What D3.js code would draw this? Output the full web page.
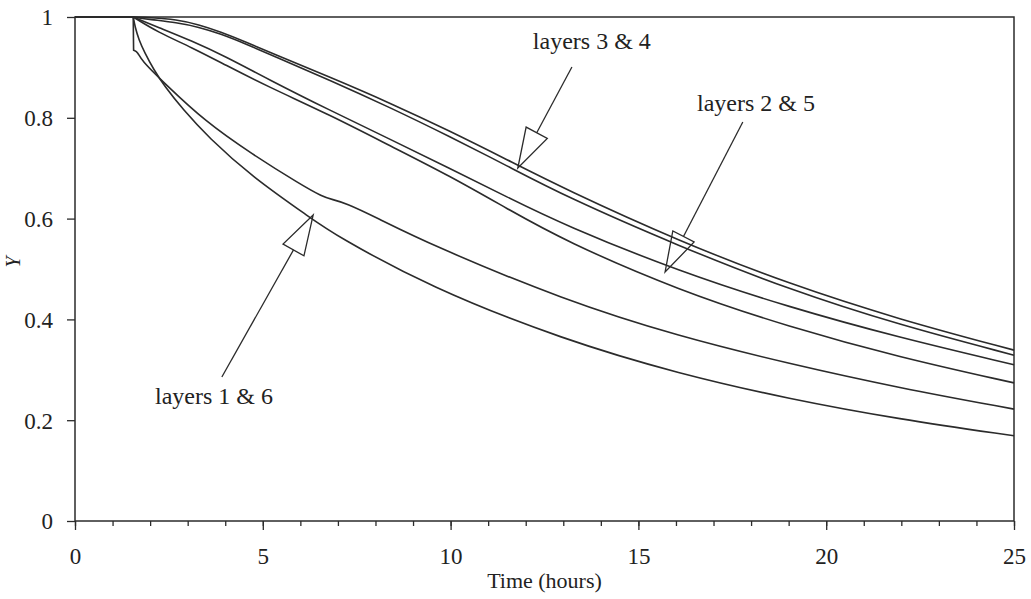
<!DOCTYPE html>
<html>
<head>
<meta charset="utf-8">
<script src="https://cdn.jsdelivr.net/npm/d3@7"></script>
<style>
  html, body { margin: 0; padding: 0; background: #fff; }
  svg { display: block; }
  text { font-family: "Liberation Serif", "Times New Roman", serif; fill: #222; }
</style>
</head>
<body>
<svg id="chart" width="1031" height="599"></svg>
<script>
// Relative value Y against time for the six layers, each as [hours, Y] pairs.
// A point repeated three times is a corner that the B-spline passes through.
const layer3 = [[0,1],[1.55,1],[1.55,1],[1.55,1],[2.0,0.999],[2.7,0.995],[3.3,0.985],[3.86,0.971],[4.57,0.95],[5.3,0.926],[6.78,0.881],[8.4,0.829],[9.97,0.774],[11.5,0.717],[13.03,0.659],[16.09,0.555],[19.02,0.47],[21.94,0.4],[25,0.339]];
const layer4 = [[0,1],[1.55,1],[1.55,1],[1.55,1],[2.0,0.995],[2.7,0.989],[3.3,0.98],[3.86,0.967],[4.57,0.946],[5.3,0.922],[6.78,0.875],[8.4,0.82],[9.97,0.763],[11.5,0.705],[13.03,0.645],[16.09,0.545],[19.02,0.459],[21.94,0.389],[25,0.329]];
const layer2 = [[0,1],[1.55,1],[1.55,1],[1.55,1],[2.2,0.98],[3.1,0.953],[4.0,0.922],[5.13,0.877],[6.78,0.815],[8.4,0.757],[9.97,0.7],[11.5,0.643],[13.03,0.587],[16.09,0.495],[19.02,0.424],[21.94,0.364],[25,0.31]];
const layer5 = [[0,1],[1.55,1],[1.55,1],[1.55,1],[2.2,0.97],[3.1,0.94],[4.0,0.905],[5.13,0.862],[6.78,0.806],[8.4,0.744],[9.97,0.685],[11.5,0.62],[13.03,0.556],[16.09,0.457],[19.02,0.385],[21.94,0.325],[25,0.274]];
const layer1 = [[0,1],[1.55,1],[1.55,1],[1.55,1],[1.56,0.934],[1.56,0.934],[1.56,0.934],[1.68,0.93],[1.75,0.915],[2.39,0.868],[3.46,0.793],[4.71,0.728],[6.0,0.668],[6.6,0.643],[6.85,0.638],[7.2,0.631],[8.0,0.603],[9.44,0.549],[13.03,0.438],[16.09,0.366],[19.02,0.312],[21.94,0.264],[25,0.222]];
const layer6 = [[0,1],[1.55,1],[1.55,1],[1.55,1],[1.6,0.98],[1.7,0.955],[1.85,0.93],[2.1,0.895],[2.39,0.862],[2.87,0.817],[3.54,0.762],[4.71,0.683],[6.3,0.6],[6.91,0.568],[9.44,0.464],[13.03,0.359],[16.09,0.292],[19.02,0.242],[21.94,0.202],[25,0.169]];

const seriesList = [layer1, layer2, layer3, layer4, layer5, layer6];

const xMajorTicks = [0, 5, 10, 15, 20, 25];
const xMinorTicks = d3.range(0, 26, 1);
const yTicks = [0, 0.2, 0.4, 0.6, 0.8, 1];
const yTickLabels = ["0", "0.2", "0.4", "0.6", "0.8", "1"];

// Callouts: label text, label anchor and arrow tail/tip, in data units.
const calloutText = ["layers 3 & 4", "layers 2 & 5", "layers 1 & 6"];
const calloutLabelAt = [[12.19, 0.9365], [16.56, 0.8135], [2.13, 0.232]];
const calloutTail = [[13.23, 0.9008], [17.78, 0.7917], [3.91, 0.2857]];
const calloutTip = [[11.79, 0.7004], [15.71, 0.494], [6.34, 0.607]];

const svg = d3.select("#chart");
const ink = "#2b2b2b";

const x = d3.scaleLinear().domain([0, 25]).range([75, 1014]);
const y = d3.scaleLinear().domain([0, 1]).range([521, 17]);

// Minor and major ticks on the time axis (pointing down)
svg.append("g")
  .attr("transform", `translate(0,${y(0)})`)
  .call(d3.axisBottom(x).tickValues(xMinorTicks).tickSize(5).tickFormat(""))
  .call(g => g.select(".domain").remove())
  .call(g => g.selectAll("line").attr("stroke", ink).attr("stroke-width", 1.3));

svg.append("g")
  .attr("transform", `translate(0,${y(0)})`)
  .call(d3.axisBottom(x).tickValues(xMajorTicks).tickSize(9).tickPadding(18).tickFormat(d3.format("d")))
  .call(g => g.select(".domain").remove())
  .call(g => g.selectAll("line").attr("stroke", ink).attr("stroke-width", 1.3))
  .call(g => g.selectAll("text")
    .attr("font-family", "Liberation Serif, Times New Roman, serif")
    .attr("font-size", 23).attr("fill", "#222"));

// Y ticks (pointing left)
svg.append("g")
  .attr("transform", `translate(${x(0)},0)`)
  .call(d3.axisLeft(y).tickValues(yTicks).tickSize(8).tickPadding(14)
    .tickFormat((d, i) => yTickLabels[i]))
  .call(g => g.select(".domain").remove())
  .call(g => g.selectAll("line").attr("stroke", ink).attr("stroke-width", 1.3))
  .call(g => g.selectAll("text")
    .attr("font-family", "Liberation Serif, Times New Roman, serif")
    .attr("font-size", 23).attr("fill", "#222").attr("dy", "0.34em"));

// Plot frame
svg.append("rect")
  .attr("x", x(0)).attr("y", y(1))
  .attr("width", x(25) - x(0)).attr("height", y(0) - y(1))
  .attr("fill", "none").attr("stroke", ink).attr("stroke-width", 1.5);

// Layer curves, smoothed with a B-spline
const line = d3.line()
  .x(d => x(d[0]))
  .y(d => y(d[1]))
  .curve(d3.curveBasis);

svg.append("g")
  .selectAll("path")
  .data(seriesList)
  .join("path")
  .attr("d", line)
  .attr("fill", "none")
  .attr("stroke", ink)
  .attr("stroke-width", 1.6)
  .attr("stroke-linejoin", "round");

// Callouts with open triangular arrowheads
const headLen = 40, headHalf = 12;
const callouts = svg.append("g");
calloutText.forEach((label, i) => {
  const tx = x(calloutTail[i][0]), ty = y(calloutTail[i][1]);
  const px = x(calloutTip[i][0]), py = y(calloutTip[i][1]);
  const len = Math.hypot(px - tx, py - ty);
  const ux = (px - tx) / len, uy = (py - ty) / len;
  const bx = px - ux * headLen, by = py - uy * headLen;
  const nx = -uy, ny = ux;
  callouts.append("line")
    .attr("x1", tx).attr("y1", ty).attr("x2", bx).attr("y2", by)
    .attr("stroke", ink).attr("stroke-width", 1.3);
  callouts.append("path")
    .attr("d", `M${px},${py}L${bx + nx * headHalf},${by + ny * headHalf}L${bx - nx * headHalf},${by - ny * headHalf}Z`)
    .attr("fill", "none").attr("stroke", ink).attr("stroke-width", 1.3)
    .attr("stroke-linejoin", "miter");
  callouts.append("text")
    .attr("x", x(calloutLabelAt[i][0])).attr("y", y(calloutLabelAt[i][1]))
    .attr("font-size", 24)
    .text(label);
});

// Axis titles
svg.append("text")
  .attr("x", (x(0) + x(25)) / 2).attr("y", 588)
  .attr("text-anchor", "middle")
  .attr("font-size", 22)
  .text("Time (hours)");

svg.append("text")
  .attr("transform", `translate(20,262) rotate(-90)`)
  .attr("text-anchor", "middle")
  .attr("font-size", 20)
  .attr("font-style", "italic")
  .text("Y");
</script>
</body>
</html>
